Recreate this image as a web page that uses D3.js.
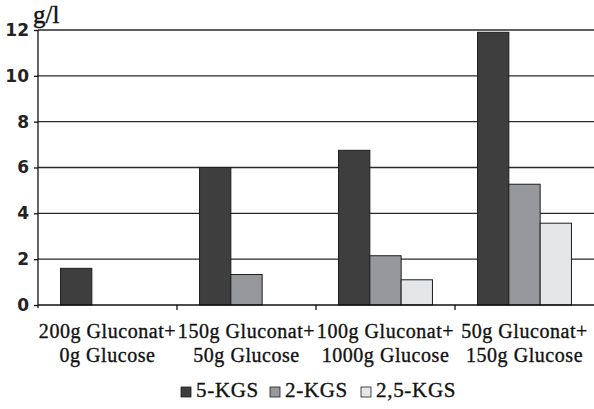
<!DOCTYPE html>
<html><head><meta charset="utf-8">
<script src="https://cdn.jsdelivr.net/npm/d3@7/dist/d3.min.js"></script>
<style>body{margin:0;background:#fff}svg{display:block}</style>
</head><body>
<script>
const categories = [["200g Gluconat+","0g Glucose"],["150g Gluconat+","50g Glucose"],["100g Gluconat+","1000g Glucose"],["50g Gluconat+","150g Glucose"]];
const seriesNames = ["5-KGS","2-KGS","2,5-KGS"];
const kgs5 = [1.6, 6.0, 6.75, 11.9];
const kgs2 = [0, 1.33, 2.15, 5.27];
const kgs25 = [0, 0, 1.1, 3.57];
const yTicks = [0,2,4,6,8,10,12];
const colors = ["#3e3e3e","#97989c","#e5e6e8"];
const unit = "g/l";

const W=594,H=409;
const svg=d3.select("body").append("svg").attr("width",W).attr("height",H);
const mL=38,mR=594,mT=30,mB=305;
const x=d3.scaleBand().domain(d3.range(categories.length)).range([mL,mR]).padding(0);
const xs=d3.scaleBand().domain(seriesNames).range([0,x.bandwidth()]).paddingInner(0).paddingOuter(0.72);
const y=d3.scaleLinear().domain([0,12]).range([mB,mT]);
const values=[kgs5,kgs2,kgs25];
const serif="'Liberation Serif', 'DejaVu Serif', serif";

// grid
svg.append("g").selectAll("line").data(yTicks.filter(d=>d>0)).join("line")
  .attr("x1",mL).attr("x2",mR).attr("y1",d=>y(d)).attr("y2",d=>y(d))
  .attr("stroke","#2a2a2a").attr("stroke-width",1.3);

// bars
categories.forEach((c,i)=>{
  seriesNames.forEach((s,j)=>{
    const v=values[j][i];
    if(v<=0) return;
    svg.append("rect").attr("x",x(i)+xs(s)).attr("y",y(v)).attr("width",xs.bandwidth()).attr("height",y(0)-y(v))
      .attr("fill",colors[j]).attr("stroke","#1e1e1e").attr("stroke-width",1);
  });
});

// y axis
const ya=svg.append("g").attr("transform",`translate(${mL},0)`)
  .call(d3.axisLeft(y).tickValues(yTicks).tickSize(4).tickSizeOuter(0));
ya.select(".domain").remove();
ya.append("line").attr("x1",0).attr("x2",0).attr("y1",mT).attr("y2",mB+3).attr("stroke","#111").attr("stroke-width",1.3);
ya.selectAll(".tick line").attr("stroke","#111").attr("stroke-width",1.3);
ya.selectAll(".tick text").attr("font-family","'DejaVu Sans', sans-serif").attr("font-weight","bold")
  .attr("font-size",17).attr("fill","#222").attr("x",-9);

// x axis
svg.append("line").attr("x1",mL).attr("x2",mR).attr("y1",mB).attr("y2",mB).attr("stroke","#111").attr("stroke-width",1.3);
svg.append("g").selectAll("line").data(d3.range(1,categories.length)).join("line")
  .attr("x1",d=>x(d)).attr("x2",d=>x(d)).attr("y1",mB).attr("y2",mB+5).attr("stroke","#111").attr("stroke-width",1.3);

// category labels
const cl=svg.append("g").selectAll("text").data(categories).join("text")
  .attr("text-anchor","middle").attr("font-family",serif).attr("font-size",20).attr("letter-spacing",0.55)
  .attr("fill","#111").attr("stroke","#111").attr("stroke-width",0.35)
  .attr("x",(d,i)=>x(i)+x.bandwidth()/2);
cl.append("tspan").attr("y",338).attr("x",(d,i)=>x(i)+x.bandwidth()/2).text(d=>d[0]);
cl.append("tspan").attr("y",362).attr("x",(d,i)=>x(i)+x.bandwidth()/2).text(d=>d[1]);

// unit
svg.append("text").attr("x",33).attr("y",23).attr("font-family",serif).attr("font-size",25)
  .attr("fill","#111").attr("stroke","#111").attr("stroke-width",0.4).text(unit);

// legend
const legX=[181,270,361];
const lg=svg.append("g").selectAll("g").data(seriesNames).join("g").attr("transform",(d,i)=>`translate(${legX[i]},0)`);
lg.append("rect").attr("x",0).attr("y",387).attr("width",10).attr("height",10).attr("fill",(d,i)=>colors[i]).attr("stroke","#1e1e1e").attr("stroke-width",0.8);
lg.append("text").attr("x",15).attr("y",397).attr("font-family",serif).attr("font-size",21).attr("letter-spacing",0.7)
  .attr("fill","#111").attr("stroke","#111").attr("stroke-width",0.35).text(d=>d);
</script>
</body></html>
